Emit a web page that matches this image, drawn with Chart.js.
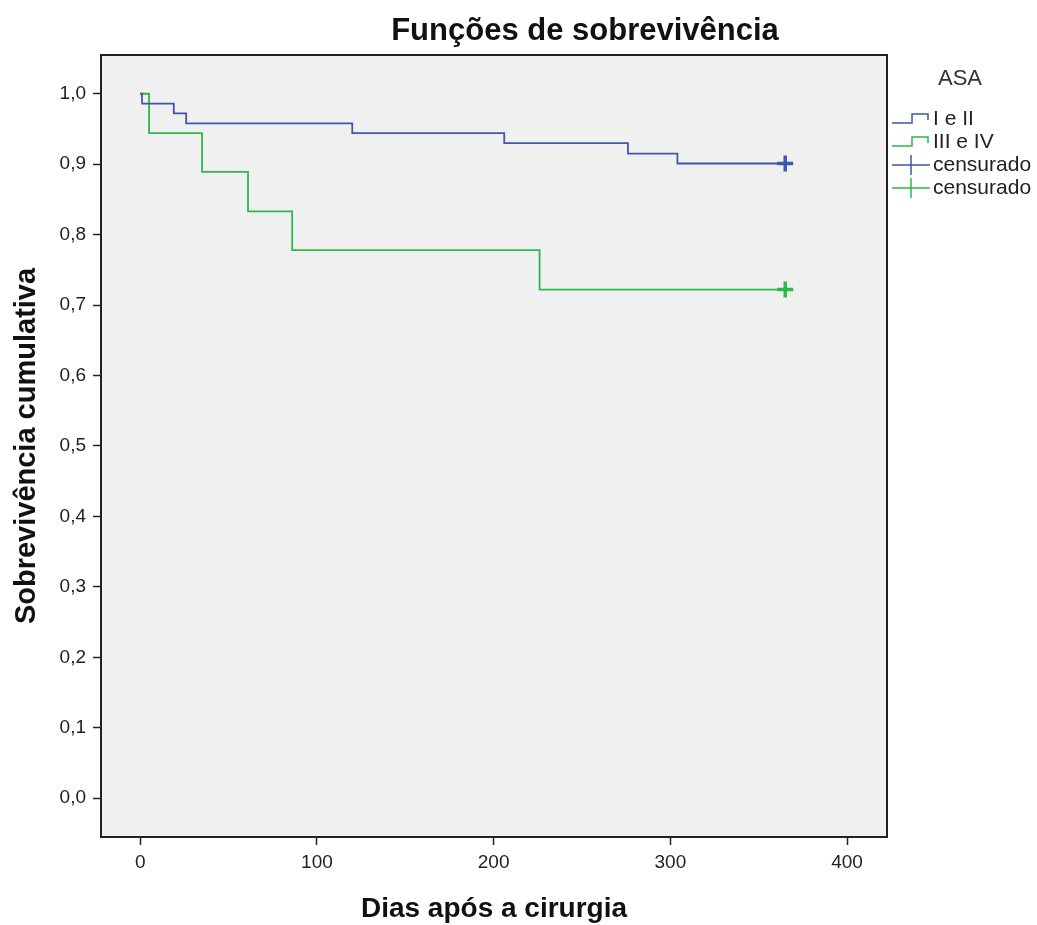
<!DOCTYPE html>
<html>
<head>
<meta charset="utf-8">
<title>Funções de sobrevivência</title>
<script src="https://cdn.jsdelivr.net/npm/chart.js@4.4.1/dist/chart.umd.min.js"></script>
<style>
  html, body { margin: 0; padding: 0; background: #fff; }
  canvas { display: block; }
</style>
</head>
<body>
<canvas id="kmChart" width="1037" height="925"></canvas>
<script>
// Kaplan-Meier: ASA I e II
const diasAsa12 = [0, 1, 19, 26, 120, 206, 276, 304, 365];
const sobrevAsa12 = [1, 0.986, 0.972, 0.958, 0.944, 0.930, 0.915, 0.901, 0.901];

// Kaplan-Meier: ASA III e IV
const diasAsa34 = [0, 5, 35, 61, 86, 226, 365];
const sobrevAsa34 = [1, 0.944, 0.889, 0.833, 0.778, 0.722, 0.722];

// casos censurados
const censDiasAsa12 = [365];
const censSobrevAsa12 = [0.901];
const censDiasAsa34 = [365];
const censSobrevAsa34 = [0.722];

const xTicks = [0, 100, 200, 300, 400];
const yTicks = [0, 0.1, 0.2, 0.3, 0.4, 0.5, 0.6, 0.7, 0.8, 0.9, 1.0];

const legendTitle = 'ASA';
const legendLabels = ['I e II', 'III e IV', 'censurado', 'censurado'];

const AZUL = '#3E58AC';
const VERDE = '#2EB848';
const FONT = '"Liberation Sans", Arial, sans-serif';

function pontos(xs, ys) {
    return xs.map((x, i) => ({ x: x, y: ys[i] }));
}

// fundo cinza, moldura, título e legenda
const moldura = {
    id: 'moldura',
    beforeDraw(chart) {
        const { ctx, chartArea: a } = chart;
        ctx.save();
        ctx.fillStyle = '#f0f0f0';
        ctx.fillRect(a.left, a.top, a.right - a.left, a.bottom - a.top);
        ctx.restore();
    },
    afterDraw(chart) {
        const { ctx, chartArea: a } = chart;
        ctx.save();
        ctx.strokeStyle = '#222';
        ctx.lineWidth = 2;
        ctx.strokeRect(a.left, a.top, a.right - a.left, a.bottom - a.top);

        // título
        ctx.fillStyle = '#111';
        ctx.font = 'bold 31px ' + FONT;
        ctx.textAlign = 'center';
        ctx.textBaseline = 'middle';
        ctx.fillText('Funções de sobrevivência', 585, 31);

        // legenda
        ctx.fillStyle = '#333';
        ctx.font = '22px ' + FONT;
        ctx.fillText(legendTitle, 960, 79);

        ctx.font = '21px ' + FONT;
        ctx.textAlign = 'left';
        const cores = [AZUL, VERDE, AZUL, VERDE];
        const x0 = 892, x1 = 930;
        legendLabels.forEach((txt, i) => {
            const y = 119 + i * 23;
            ctx.strokeStyle = cores[i];
            ctx.lineWidth = 1.5;
            ctx.beginPath();
            if (i < 2) {
                ctx.moveTo(x0, y + 4);
                ctx.lineTo(912, y + 4);
                ctx.lineTo(912, y - 5);
                ctx.lineTo(928, y - 5);
                ctx.lineTo(928, y + 1);
            } else {
                ctx.moveTo(x0, y);
                ctx.lineTo(x1, y);
                ctx.moveTo(911, y - 10);
                ctx.lineTo(911, y + 10);
            }
            ctx.stroke();
            ctx.fillStyle = '#222';
            ctx.fillText(txt, 933, y);
        });
        ctx.restore();
    }
};

const ctx = document.getElementById('kmChart');

const data = {
    datasets: [
        {
            label: legendLabels[0],
            data: pontos(diasAsa12, sobrevAsa12),
            borderColor: AZUL,
            borderWidth: 1.8,
            stepped: 'before',
            pointRadius: 0
        },
        {
            label: legendLabels[1],
            data: pontos(diasAsa34, sobrevAsa34),
            borderColor: VERDE,
            borderWidth: 1.8,
            stepped: 'before',
            pointRadius: 0
        },
        {
            label: legendLabels[2],
            data: pontos(censDiasAsa12, censSobrevAsa12),
            showLine: false,
            pointStyle: 'cross',
            pointRadius: 8,
            pointBorderWidth: 3.5,
            borderColor: AZUL
        },
        {
            label: legendLabels[3],
            data: pontos(censDiasAsa34, censSobrevAsa34),
            showLine: false,
            pointStyle: 'cross',
            pointRadius: 8,
            pointBorderWidth: 3.5,
            borderColor: VERDE
        }
    ]
};

const options = {
    responsive: false,
    animation: false,
    devicePixelRatio: 1,
    layout: { padding: { top: 55, right: 150, left: 0, bottom: 0 } },
    plugins: {
        legend: { display: false },
        tooltip: { enabled: false }
    },
    scales: {
        x: {
            type: 'linear',
            min: -22.2,
            max: 422.6,
            afterBuildTicks: s => { s.ticks = xTicks.map(v => ({ value: v })); },
            afterFit: s => { s.height = 88; },
            grid: { drawOnChartArea: false, drawTicks: true, tickLength: 8, tickColor: '#222', tickWidth: 1.5 },
            border: { display: false },
            ticks: { color: '#222', font: { family: FONT, size: 19 }, padding: 6, maxRotation: 0 },
            title: {
                display: true,
                text: 'Dias após a cirurgia',
                color: '#111',
                font: { family: FONT, size: 28, weight: 'bold', lineHeight: 1.1 },
                padding: { top: 0, bottom: 0 }
            }
        },
        y: {
            min: -0.055,
            max: 1.055,
            afterBuildTicks: s => { s.ticks = yTicks.map(v => ({ value: v })); },
            afterFit: s => { s.width = 101; },
            grid: { drawOnChartArea: false, drawTicks: true, tickLength: 8, tickColor: '#222', tickWidth: 1.5 },
            border: { display: false },
            ticks: {
                color: '#222',
                font: { family: FONT, size: 19 },
                padding: 7,
                callback: v => v.toFixed(1).replace('.', ',')
            },
            title: {
                display: true,
                text: 'Sobrevivência cumulativa',
                color: '#111',
                font: { family: FONT, size: 29, weight: 'bold', lineHeight: 1.2 },
                padding: { top: 10, bottom: 0 }
            }
        }
    }
};

const kmChart = new Chart(ctx, {
    type: 'line',
    data: data,
    options: options,
    plugins: [moldura]
});
</script>
</body>
</html>
